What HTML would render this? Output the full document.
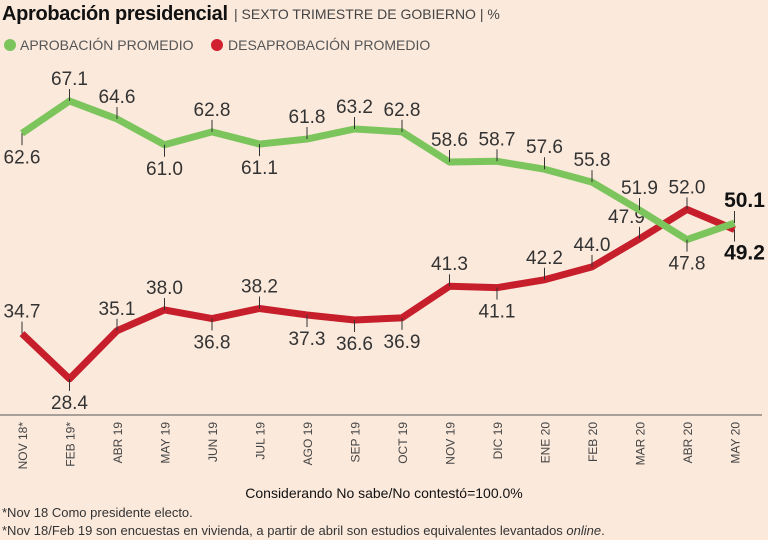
<!DOCTYPE html>
<html><head><meta charset="utf-8"><style>
body{margin:0;width:768px;height:540px;background:#fbe9dc;overflow:hidden;font-family:"Liberation Sans",sans-serif}
svg{position:absolute;left:0;top:0}
</style></head><body>
<svg width="768" height="540" viewBox="0 0 768 540" font-family="Liberation Sans, sans-serif">
<rect width="768" height="540" fill="#fbe9dc"/>
<text x="2" y="20" font-size="20" font-weight="bold" fill="#111" textLength="226">Aprobación presidencial</text>
<text x="234" y="19" font-size="14" fill="#444">| SEXTO TRIMESTRE DE GOBIERNO | %</text>
<circle cx="10" cy="45" r="6" fill="#7cc55c"/>
<text x="20" y="50" font-size="14" fill="#555">APROBACIÓN PROMEDIO</text>
<circle cx="217" cy="45" r="6" fill="#d1202f"/>
<text x="228" y="50" font-size="14" fill="#555">DESAPROBACIÓN PROMEDIO</text>
<line x1="0" y1="415" x2="762" y2="415" stroke="#555" stroke-width="1"/>
<g id="g"></g>
<text x="384" y="498" font-size="14" fill="#111" text-anchor="middle">Considerando No sabe/No contestó=100.0%</text>
<text x="2" y="517" font-size="13" fill="#333">*Nov 18 Como presidente electo.</text>
<text x="2" y="535" font-size="13" fill="#333">*Nov 18/Feb 19 son encuestas en vivienda, a partir de abril son estudios equivalentes levantados <tspan font-style="italic">online</tspan>.</text>
</svg>
<script>
const ns="http://www.w3.org/2000/svg",g=document.getElementById("g");
const months=["NOV 18*","FEB 19*","ABR 19","MAY 19","JUN 19","JUL 19","AGO 19","SEP 19","OCT 19","NOV 19","DIC 19","ENE 20","FEB 20","MAR 20","ABR 20","MAY 20"];
const G=[62.6,67.1,64.6,61.0,62.8,61.1,61.8,63.2,62.8,58.6,58.7,57.6,55.8,51.9,47.8,50.1];
const R=[34.7,28.4,35.1,38.0,36.8,38.2,37.3,36.6,36.9,41.3,41.1,42.2,44.0,47.9,52.0,49.2];
const gp=[0,1,1,0,1,0,1,1,1,1,1,1,1,1,0,1];
const rp=[1,0,1,1,0,1,0,0,0,1,0,1,1,1,1,0];
const X=i=>22+i*47.5, Y=v=>101+(67.1-v)*7.18;
function el(t,a,txt){const e=document.createElementNS(ns,t);for(const k in a)e.setAttribute(k,a[k]);if(txt)e.textContent=txt;g.appendChild(e);return e}
function series(d,c,pos,red){
 el("polyline",{points:d.map((v,i)=>X(i)+","+Y(v)).join(" "),fill:"none",stroke:c,"stroke-width":7,"stroke-linejoin":"round"});
 d.forEach((v,i)=>{const x=X(i),y=Y(v),up=pos[i],last=i==15;
  let tx=last?x+10:x;if(red&&i==13)tx=x-13;
  el("line",{x1:x,y1:y,x2:x,y2:up?y-12:y+12,stroke:"#333","stroke-width":1});
  el("text",{x:tx,y:up?y-16:y+30,"font-size":last?21:19,"font-weight":last?"bold":"normal",fill:last?"#111":"#333","text-anchor":"middle"},v.toFixed(1));
 });
}
series(R,"#c61f2b",rp,true);series(G,"#7cc55c",gp,false);
months.forEach((m,i)=>{el("text",{x:0,y:0,"font-size":12,fill:"#444","text-anchor":"end",transform:`translate(${X(i)+5},422) rotate(-90)`},m)});
</script>
</body></html>
